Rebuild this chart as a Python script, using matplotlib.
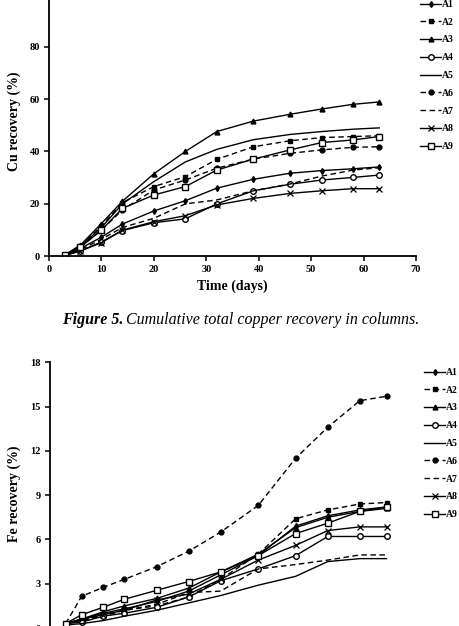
import matplotlib
matplotlib.use("Agg")
import matplotlib.pyplot as plt

plt.rcParams["font.family"] = ["Liberation Serif", "DejaVu Serif"]

days = [3, 6, 10, 14, 20, 26, 32, 39, 46, 52, 58, 63]
labels = ["A1", "A2", "A3", "A4", "A5", "A6", "A7", "A8", "A9"]

# Cu recovery (%)
cu_a1 = [0.5, 3.0, 7.3, 12.3, 17.3, 21.2, 26.0, 29.4, 31.7, 32.7, 33.4, 34.1]
cu_a2 = [0.5, 4.0, 11.5, 20.5, 26.6, 30.4, 37.0, 41.8, 44.1, 45.3, 45.7, 46.0]
cu_a3 = [0.5, 4.3, 12.5, 21.0, 31.5, 40.0, 47.6, 51.6, 54.2, 56.2, 58.0, 58.9]
cu_a4 = [0.3, 2.0, 5.5, 9.8, 12.8, 14.3, 20.0, 25.0, 27.5, 29.1, 30.1, 31.0]
cu_a5 = [0.5, 3.8, 11.0, 20.0, 28.5, 36.0, 40.8, 44.5, 46.5, 47.6, 48.5, 49.0]
cu_a6 = [0.5, 3.5, 10.0, 17.7, 25.3, 29.1, 33.6, 37.1, 39.3, 40.6, 41.6, 41.8]
cu_a7 = [0.4, 2.5, 6.5, 11.0, 14.5, 20.0, 21.5, 25.0, 27.6, 30.6, 32.9, 33.8]
cu_a8 = [0.4, 2.1, 5.2, 10.0, 13.2, 15.5, 19.6, 22.1, 24.0, 25.0, 25.8, 25.8]
cu_a9 = [0.5, 3.5, 10.0, 18.3, 23.4, 26.6, 32.9, 37.1, 40.6, 43.4, 44.4, 45.7]

# Fe recovery (%)
fe_a1 = [0.3, 0.6, 1.0, 1.3, 1.8, 2.5, 3.6, 4.9, 6.9, 7.6, 8.0, 8.2]
fe_a2 = [0.3, 0.5, 0.8, 1.2, 1.5, 2.1, 3.3, 5.0, 7.4, 8.0, 8.4, 8.5]
fe_a3 = [0.3, 0.6, 1.1, 1.5, 2.0, 2.7, 3.8, 5.0, 6.8, 7.5, 7.9, 8.1]
fe_a4 = [0.3, 0.4, 0.8, 1.0, 1.4, 2.1, 3.2, 4.0, 4.9, 6.2, 6.2, 6.2]
fe_a5 = [0.2, 0.3, 0.5, 0.8, 1.2, 1.7, 2.2, 2.9, 3.5, 4.5, 4.7, 4.7]
fe_a6 = [0.3, 2.15, 2.75, 3.3, 4.15, 5.2, 6.5, 8.3, 11.5, 13.6, 15.4, 15.7]
fe_a7 = [0.3, 0.5, 0.9, 1.2, 1.6, 2.4, 2.5, 4.0, 4.3, 4.6, 4.95, 4.95]
fe_a8 = [0.3, 0.6, 0.9, 1.2, 1.9, 2.3, 3.3, 4.6, 5.6, 6.6, 6.85, 6.85]
fe_a9 = [0.3, 0.9, 1.4, 1.95, 2.55, 3.15, 3.8, 4.9, 6.4, 7.1, 7.9, 8.2]

cu = [cu_a1, cu_a2, cu_a3, cu_a4, cu_a5, cu_a6, cu_a7, cu_a8, cu_a9]
fe = [fe_a1, fe_a2, fe_a3, fe_a4, fe_a5, fe_a6, fe_a7, fe_a8, fe_a9]

dash = (0, (4, 2.5))
styles = [
    dict(ls="-", marker="d", ms=3, mfc="black"),
    dict(ls=dash, marker="s", ms=3.5, mfc="black"),
    dict(ls="-", marker="^", ms=3.5, mfc="black"),
    dict(ls="-", marker="o", ms=4, mfc="white"),
    dict(ls="-", marker=None),
    dict(ls=dash, marker="o", ms=3.5, mfc="black"),
    dict(ls=dash, marker=None),
    dict(ls="-", marker="x", ms=4, mew=0.9),
    dict(ls="-", marker="s", ms=4, mfc="white"),
]

W, H = 460, 626
fig = plt.figure(figsize=(W / 100, H / 100), dpi=100)


def px_axes(left, right, top, bottom):
    return fig.add_axes([left / W, 1 - bottom / H, (right - left) / W, (bottom - top) / H])


def style_axes(ax):
    for s in ["top", "right"]:
        ax.spines[s].set_visible(False)
    for s in ["left", "bottom"]:
        ax.spines[s].set_linewidth(1.3)
    ax.tick_params(direction="out", length=3.5, width=1.1, pad=3, labelsize=7.5)
    for t in ax.get_xticklabels() + ax.get_yticklabels():
        t.set_fontweight("bold")


legend_kw = dict(loc="upper left", frameon=False, handlelength=2.2, handletextpad=0.1,
                 labelspacing=0.9, borderaxespad=0, borderpad=0,
                 prop={"weight": "bold", "size": 7})

# top chart (Cu)
ax1 = px_axes(49, 416, 0, 256.3)
lines1 = []
for y, st, lab in zip(cu, styles, labels):
    (ln,) = ax1.plot(days, y, color="black", lw=1.0, mec="black", label=lab, **st)
    lines1.append(ln)
ax1.set_xlim(0, 70)
ax1.set_ylim(0, 97.8)
ax1.set_xticks(range(0, 71, 10))
ax1.set_yticks(range(0, 81, 20))
style_axes(ax1)
ax1.set_xlabel("Time (days)", fontsize=10, fontweight="bold", labelpad=4)
ax1.set_ylabel("Cu recovery (%)", fontsize=10, fontweight="bold")
ax1.yaxis.set_label_coords(-0.076, 0.528)
fig.legend(handles=lines1, bbox_to_anchor=(420 / W, 1 - 0 / H), **legend_kw)

cap = fig.text(62 / W, 1 - 320 / H, "Figure 5.", fontsize=11.5, fontweight="bold",
               fontstyle="italic", va="center", ha="left")
fig.canvas.draw()
bb = cap.get_window_extent()
fig.text((bb.x1 + 3) / W, 1 - 320 / H, "Cumulative total copper recovery in columns.",
         fontsize=11.5, fontstyle="italic", va="center", ha="left")

# bottom chart (Fe)
ax2 = px_axes(49.6, 424, 362.3, 628)
lines2 = []
for y, st, lab in zip(fe, styles, labels):
    (ln,) = ax2.plot(days, y, color="black", lw=1.0, mec="black", label=lab, **st)
    lines2.append(ln)
ax2.set_xlim(0, 70)
ax2.set_ylim(0, 18)
ax2.set_xticks(range(0, 71, 10))
ax2.set_yticks(range(0, 19, 3))
style_axes(ax2)
ax2.tick_params(axis="x", labelbottom=False)
ax2.set_ylabel("Fe recovery (%)", fontsize=10, fontweight="bold")
ax2.yaxis.set_label_coords(-0.076, 0.504)
fig.legend(handles=lines2, bbox_to_anchor=(424 / W, 1 - 368 / H), **legend_kw)

fig.savefig("out.png", dpi=100)
plt.close(fig)
